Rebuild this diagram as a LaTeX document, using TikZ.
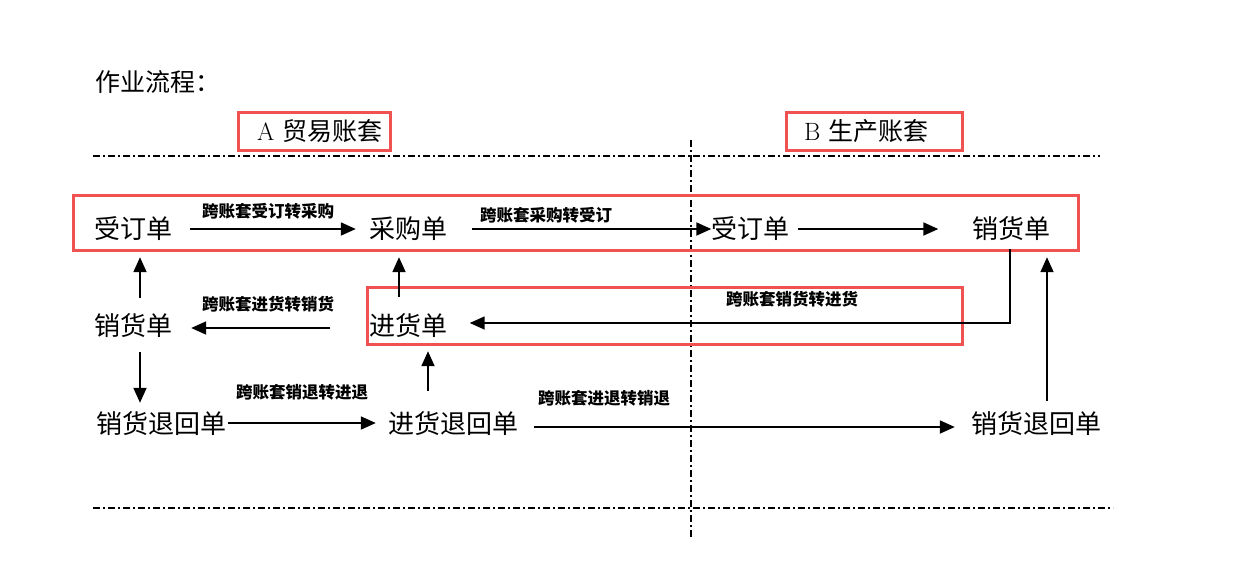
\documentclass[tikz,border=0pt]{standalone}
\usepackage{fontspec}
\newfontfamily\cjk{Noto Sans CJK SC}
\usetikzlibrary{arrows.meta,calc}
\definecolor{boxred}{RGB}{240,82,82}
\begin{document}
\begin{tikzpicture}[x=1pt,y=-1pt,
  doc/.style={inner sep=0pt,font=\cjk\fontsize{26}{26}\selectfont},
  ttl/.style={inner sep=0pt,font=\cjk\fontsize{25}{25}\selectfont},
  lab/.style={inner sep=0pt,font=\cjk\bfseries\fontsize{16.5}{16.5}\selectfont},
  arr/.style={line width=1.8pt,-{Triangle[length=15pt,width=13pt]}},
  redbox/.style={draw=boxred,line width=3pt},
  sepline/.style={line width=1.4pt,dash pattern=on 7pt off 3pt on 2pt off 3pt}]
\useasboundingbox[fill=white] (0,0) rectangle (1242,576);

% separators
\draw[sepline] (93,156) -- (1100,156);
\draw[sepline] (93,508) -- (1113,508);
\draw[sepline] (691,140) -- (691,537);

% title and ledger headers
\node[ttl,anchor=west] (title) at (95,82) {作业流程：};
\draw[redbox] (238,112) rectangle (390,150);
\node[ttl,anchor=west] (hA) at (257,131) {{\rmfamily A}\hspace{8pt}贸易账套};
\draw[redbox] (786,112) rectangle (962,150);
\node[ttl,anchor=west] (hB) at (804,131) {{\rmfamily B}\hspace{8pt}生产账套};

% highlight boxes
\draw[redbox] (73,195) rectangle (1078,250);
\draw[redbox] (367,287) rectangle (962,344);

% documents
\node[doc] (soA) at (133.5,229) {受订单};
\node[doc] (cg)  at (408,229) {采购单};
\node[doc] (soB) at (750.5,229) {受订单};
\node[doc] (xhB) at (1011.5,229) {销货单};
\node[doc] (xhA) at (133.5,326) {销货单};
\node[doc] (jh)  at (408.5,326) {进货单};
\node[doc] (xtA) at (161.5,424) {销货退回单};
\node[doc] (jt)  at (453,424) {进货退回单};
\node[doc] (xtB) at (1036.5,424) {销货退回单};

% labels
\node[lab] (l1) at (268,211) {跨账套受订转采购};
\node[lab] (l2) at (546,215) {跨账套采购转受订};
\node[lab] (l3) at (792,299) {跨账套销货转进货};
\node[lab] (l4) at (268,304) {跨账套进货转销货};
\node[lab] (l5) at (302,392) {跨账套销退转进退};
\node[lab] (l6) at (604,398) {跨账套进退转销退};

% arrows
\draw[arr] ([xshift=17pt]soA.east) -- ([xshift=-13pt]cg.west);
\draw[arr] ([xshift=25pt]cg.east) -- (soB.west);
\draw[arr] ([xshift=8pt]soB.east) -- ([xshift=-34pt]xhB.west);
\draw[arr,line width=1.5pt] ([xshift=-1.5pt,yshift=-8pt]xhB.south) |- ([xshift=22pt,yshift=3pt]jh.east);
\draw[arr] ([xshift=-9.5pt,yshift=17pt]jh.north) -- ([xshift=-9pt,yshift=-16pt]cg.south);
\draw[arr] ([xshift=6.5pt,yshift=16pt]xhA.north) -- ([xshift=6.5pt,yshift=-16pt]soA.south);
\draw[arr] ([xshift=-39pt,yshift=-2pt]jh.west) -- ([xshift=18.5pt,yshift=-2pt]xhA.east);
\draw[arr] ([xshift=6.5pt,yshift=-14pt]xhA.south) -- ([xshift=-21.5pt,yshift=9pt]xtA.north);
\draw[arr] ([xshift=1.5pt,yshift=1pt]xtA.east) -- ([xshift=-12pt,yshift=1pt]jt.west);
\draw[arr] ([xshift=-25pt,yshift=21pt]jt.north) -- ([xshift=19.5pt,yshift=-13pt]jh.south);
\draw[arr] ([xshift=16pt,yshift=-3pt]jt.east) -- ([xshift=-16.5pt,yshift=-3pt]xtB.west);
\draw[arr] ([xshift=10.5pt,yshift=11pt]xtB.north) -- ([xshift=35.5pt,yshift=-16pt]xhB.south);
\end{tikzpicture}
\end{document}
